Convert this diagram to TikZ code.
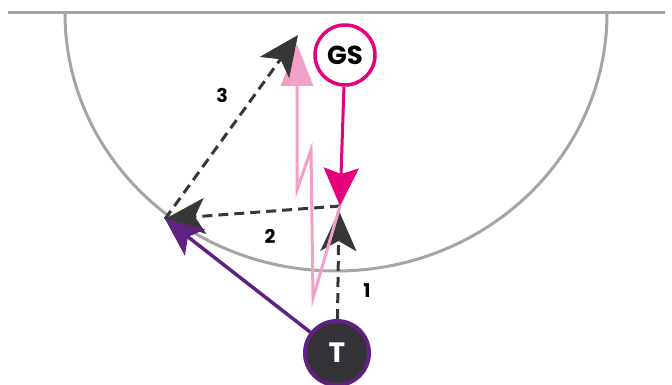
\documentclass[tikz,border=0pt]{standalone}
\usepackage{fontspec}
\setmainfont{Poppins}
\usetikzlibrary{arrows.meta,backgrounds}
\definecolor{courtgray}{RGB}{165,165,165}
\definecolor{gspink}{RGB}{230,0,126}
\definecolor{passpink}{RGB}{242,160,200}
\definecolor{tpurple}{RGB}{96,34,128}
\definecolor{tdark}{RGB}{52,50,54}
\definecolor{rundark}{RGB}{55,55,55}
\begin{document}
\begin{tikzpicture}[x=1pt,y=-1pt,
            court/.style={courtgray,line width=3pt},
            run/.style={rundark,line width=3pt,dash pattern=on 10pt off 6pt,
                        -{Stealth[length=40pt,width=36pt,inset=10pt]}},
            lead/.style={gspink,line width=3pt,
                        -{Stealth[length=38pt,width=35pt,inset=6pt]}},
            drive/.style={tpurple,line width=3.5pt,
                        -{Stealth[length=38pt,width=33pt,inset=9pt]}},
            pass/.style={passpink,line width=3pt,line join=miter,
                        -{Triangle[length=42pt,width=32pt]}},
            player/.style={circle,line width=3.5pt,inner sep=0pt,
                        font=\bfseries\fontsize{26}{26}\selectfont},
            num/.style={font=\bfseries\fontsize{19}{19}\selectfont,text=black}]
            \useasboundingbox (0,0) rectangle (672,385);
            % players
            \node[player,draw=gspink,fill=white,minimum size=60pt]
                       (gs) at (345,55) {GS};
            \node[player,draw=tpurple,fill=tdark,text=white,line width=4pt,
                       minimum size=64pt,font=\bfseries\fontsize{28}{28}\selectfont]
                       (t) at (337,353) {T};
            \coordinate (meet) at (340,206);
            \coordinate (c1) at (339,211);
            \coordinate (c2) at (165,219);
            \coordinate (c3) at (298,35);
            \coordinate (z1) at (313,298);
            \coordinate (z2) at (311,150);
            \coordinate (z3) at (297,190);
            \coordinate (z4) at (297,44);
            \begin{scope}[on background layer]
            % court lines
            \draw[court] (8,13) -- (665,13);
            \draw[court] (65,13) arc[start angle=180,end angle=0,
                                       x radius=271,y radius=258];
            \draw[run] (t) -- (c1);
            \draw[run] (meet) -- (c2);
            \draw[pass] (meet) -- (z1) -- (z2) -- (z3) -- (z4);
            \draw[run] (c2) -- (c3);
            \draw[lead] (gs) -- (meet);
            \draw[drive] (t) -- (c2);
            \end{scope}
            % labels
            \node[num] (l1) at (367,291) {1};
            \node[num] (l2) at (270,236) {2};
            \node[num] (l3) at (222,95) {3};
\end{tikzpicture}
\end{document}
